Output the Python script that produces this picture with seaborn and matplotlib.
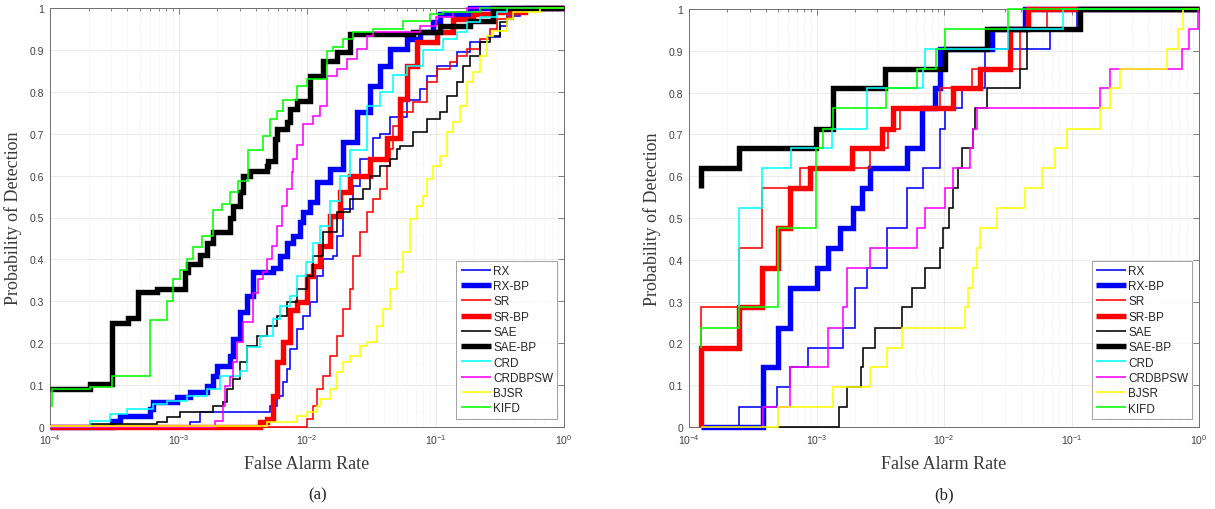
import matplotlib
matplotlib.use("Agg")
import matplotlib.pyplot as plt
import pandas as pd
import seaborn as sns
from matplotlib.ticker import FixedLocator, LogLocator, NullFormatter, FixedFormatter

# ---------------------------------------------------------------- series setup
methods = ["RX", "RX-BP", "SR", "SR-BP", "SAE", "SAE-BP", "CRD", "CRDBPSW", "BJSR", "KIFD"]
colors = ["#0000ff", "#0000ff", "#ff0000", "#ff0000", "#000000", "#000000",
          "#00ffff", "#ff00ff", "#ffff00", "#00ff00"]
widths = [1.15, 3.9, 1.15, 3.9, 1.15, 3.9, 1.15, 1.15, 1.15, 1.15]

# ---------------------------------------------------------------- panel (a) ROC data
a_rx_fpr = [1e-4, 1.23e-3, 1.47e-3, 5.15e-3, 5.85e-3, 6.50e-3, 6.98e-3, 7.37e-3, 8.35e-3, 9.31e-3,
            1.05e-2, 1.20e-2, 1.33e-2, 1.59e-2, 1.71e-2, 1.91e-2, 2.28e-2, 2.58e-2, 3.27e-2, 3.70e-2,
            4.43e-2, 6.00e-2, 7.57e-2, 8.59e-2, 1.03e-1, 1.47e-1, 1.85e-1, 2.52e-1, 3.18e-1, 3.60e-1,
            4.55e-1, 4.98e-1, 1.0]
a_rx_pd = [0.0, 0.012, 0.036, 0.05, 0.074, 0.107, 0.138, 0.186, 0.234, 0.265,
           0.298, 0.36, 0.40, 0.408, 0.456, 0.52, 0.575, 0.64, 0.69, 0.70,
           0.74, 0.78, 0.807, 0.838, 0.862, 0.894, 0.918, 0.93, 0.958, 0.98,
           0.99, 1.0, 1.0]

a_rxbp_fpr = [1e-4, 3.03e-4, 3.51e-4, 6.00e-4, 6.34e-4, 9.73e-4, 1.23e-3, 1.67e-3, 1.85e-3, 2.0e-3,
              2.52e-3, 2.66e-3, 3.01e-3, 3.41e-3, 3.80e-3, 5.44e-3, 6.17e-3, 6.98e-3, 7.78e-3, 8.83e-3,
              9.31e-3, 1.05e-2, 1.20e-2, 1.51e-2, 1.91e-2, 2.45e-2, 3.09e-2, 3.70e-2, 4.43e-2, 6.00e-2,
              7.57e-2, 9.57e-2, 1.08e-1, 1.85e-1, 1.0]
a_rxbp_pd = [0.0, 0.014, 0.026, 0.043, 0.06, 0.072, 0.084, 0.098, 0.122, 0.146,
             0.17, 0.21, 0.274, 0.313, 0.37, 0.38, 0.408, 0.44, 0.456, 0.49,
             0.513, 0.537, 0.585, 0.616, 0.68, 0.752, 0.814, 0.862, 0.902, 0.926,
             0.943, 0.966, 0.986, 1.0, 1.0]

a_sr_fpr = [1e-4, 1.0e-2, 1.11e-2, 1.20e-2, 1.33e-2, 1.51e-2, 1.71e-2, 1.91e-2, 2.16e-2, 2.28e-2,
            2.58e-2, 2.93e-2, 3.27e-2, 3.70e-2, 4.20e-2, 4.43e-2, 4.67e-2, 5.30e-2, 6.68e-2, 8.59e-2,
            1.03e-1, 1.30e-1, 1.47e-1, 1.76e-1, 2.22e-1, 2.65e-1, 3.01e-1, 3.60e-1, 4.01e-1, 4.98e-1, 1.0]
a_sr_pd = [0.0, 0.02, 0.05, 0.09, 0.122, 0.17, 0.217, 0.282, 0.329, 0.408,
           0.465, 0.513, 0.544, 0.568, 0.623, 0.663, 0.718, 0.752, 0.776, 0.823,
           0.854, 0.87, 0.886, 0.902, 0.926, 0.95, 0.974, 0.978, 0.99, 1.0, 1.0]

a_srbp_fpr = [1e-4, 4.31e-3, 4.89e-3, 5.44e-3, 5.85e-3, 6.50e-3, 7.37e-3, 8.35e-3, 1.0e-2, 1.11e-2,
              1.26e-2, 1.51e-2, 1.81e-2, 2.16e-2, 3.09e-2, 4.20e-2, 5.30e-2, 6.00e-2, 7.18e-2, 1.03e-1,
              1.37e-1, 1.96e-1, 2.80e-1, 4.98e-1, 1.0]
a_srbp_pd = [0.0, 0.012, 0.02, 0.074, 0.155, 0.203, 0.28, 0.298, 0.36, 0.385,
             0.432, 0.503, 0.56, 0.60, 0.64, 0.69, 0.783, 0.862, 0.918, 0.943,
             0.974, 0.986, 0.99, 1.0, 1.0]

a_sae_fpr = [1e-4, 2.05e-4, 6.81e-4, 8.15e-4, 1.03e-3, 1.85e-3, 2.22e-3, 2.38e-3, 2.66e-3, 3.01e-3,
             3.41e-3, 4.08e-3, 4.89e-3, 5.85e-3, 6.98e-3, 8.35e-3, 1.0e-2, 1.11e-2, 1.33e-2, 1.71e-2,
             2.16e-2, 2.73e-2, 3.09e-2, 3.70e-2, 4.43e-2, 5.01e-2, 5.30e-2, 6.68e-2, 8.59e-2, 1.08e-1,
             1.23e-1, 1.47e-1, 1.64e-1, 1.85e-1, 2.22e-1, 2.65e-1, 3.18e-1, 3.60e-1, 4.01e-1, 4.98e-1, 1.0]
a_sae_pd = [0.0, 0.007, 0.012, 0.024, 0.036, 0.05, 0.06, 0.09, 0.114, 0.155,
            0.193, 0.217, 0.241, 0.265, 0.298, 0.329, 0.36, 0.408, 0.465, 0.513,
            0.544, 0.568, 0.599, 0.623, 0.64, 0.663, 0.671, 0.704, 0.735, 0.752,
            0.79, 0.823, 0.862, 0.886, 0.918, 0.934, 0.966, 0.974, 0.994, 1.0, 1.0]

a_saebp_fpr = [1e-4, 2.05e-4, 3.03e-4, 4.05e-4, 4.84e-4, 6.81e-4, 1.12e-3, 1.19e-3, 1.47e-3, 1.67e-3,
               1.85e-3, 2.52e-3, 2.66e-3, 3.01e-3, 3.18e-3, 3.60e-3, 4.89e-3, 4.97e-3, 5.64e-3, 5.85e-3,
               6.98e-3, 7.37e-3, 8.35e-3, 1.05e-2, 1.33e-2, 1.71e-2, 2.16e-2, 6.68e-2, 1.08e-1, 1.85e-1,
               2.80e-1, 1.0]
a_saebp_pd = [0.09, 0.103, 0.248, 0.26, 0.322, 0.33, 0.37, 0.39, 0.41, 0.44,
              0.465, 0.50, 0.527, 0.56, 0.60, 0.61, 0.623, 0.635, 0.687, 0.711,
              0.728, 0.759, 0.778, 0.838, 0.874, 0.895, 0.938, 0.943, 0.957, 0.97,
              1.0, 1.0]

a_crd_fpr = [1e-4, 2.05e-4, 2.93e-4, 3.97e-4, 6.34e-4, 8.15e-4, 1.16e-3, 1.67e-3, 2.10e-3, 3.01e-3,
             3.41e-3, 4.31e-3, 5.44e-3, 6.17e-3, 7.37e-3, 8.35e-3, 9.9e-3, 1.11e-2, 1.26e-2, 1.51e-2,
             1.81e-2, 2.16e-2, 2.93e-2, 3.70e-2, 4.67e-2, 6.00e-2, 8.0e-2, 1.14e-1, 1.47e-1, 1.76e-1,
             2.22e-1, 3.01e-1, 3.60e-1, 1.0]
a_crd_pd = [0.0, 0.014, 0.031, 0.043, 0.055, 0.062, 0.074, 0.09, 0.122, 0.134,
            0.19, 0.217, 0.258, 0.289, 0.313, 0.36, 0.394, 0.44, 0.48, 0.54,
            0.60, 0.66, 0.766, 0.80, 0.84, 0.862, 0.90, 0.926, 0.943, 0.966,
            0.978, 0.99, 1.0, 1.0]

a_crdbpsw_fpr = [1e-4, 1.92e-3, 2.22e-3, 2.30e-3, 2.52e-3, 2.66e-3, 2.85e-3, 3.18e-3, 3.80e-3, 4.16e-3,
                 4.55e-3, 4.89e-3, 5.34e-3, 5.85e-3, 6.39e-3, 6.98e-3, 7.64e-3, 7.78e-3, 8.35e-3, 9.31e-3,
                 1.11e-2, 1.26e-2, 1.43e-2, 1.71e-2, 2.05e-2, 2.45e-2, 2.93e-2, 3.27e-2, 7.57e-2, 1.0e-1,
                 1.37e-1, 1.76e-1, 1.0]
a_crdbpsw_pd = [0.0, 0.014, 0.05, 0.098, 0.12, 0.155, 0.203, 0.25, 0.32, 0.353,
                0.37, 0.40, 0.433, 0.48, 0.527, 0.568, 0.608, 0.64, 0.673, 0.723,
                0.743, 0.767, 0.838, 0.854, 0.878, 0.902, 0.934, 0.943, 0.958, 0.978,
                0.99, 1.0, 1.0]

a_bjsr_fpr = [1e-4, 4.89e-3, 8.35e-3, 1.0e-2, 1.20e-2, 1.26e-2, 1.51e-2, 1.71e-2, 1.91e-2, 2.16e-2,
              2.58e-2, 2.93e-2, 3.51e-2, 3.90e-2, 4.43e-2, 5.01e-2, 5.58e-2, 6.34e-2, 7.18e-2, 8.0e-2,
              8.59e-2, 9.57e-2, 1.08e-1, 1.23e-1, 1.37e-1, 1.55e-1, 1.76e-1, 1.96e-1, 2.22e-1, 2.52e-1,
              2.80e-1, 3.60e-1, 4.01e-1, 6.50e-1, 1.0]
a_bjsr_pd = [0.003, 0.012, 0.026, 0.036, 0.05, 0.067, 0.09, 0.131, 0.155, 0.17,
             0.193, 0.203, 0.241, 0.282, 0.329, 0.37, 0.418, 0.496, 0.527, 0.551,
             0.592, 0.623, 0.647, 0.704, 0.728, 0.766, 0.823, 0.847, 0.886, 0.934,
             0.946, 0.974, 0.99, 1.0, 1.0]

a_kifd_fpr = [1.02e-4, 1.03e-4, 2.05e-4, 3.03e-4, 6.00e-4, 8.15e-4, 9.06e-4, 1.03e-3, 1.16e-3, 1.30e-3,
              1.52e-3, 1.85e-3, 2.18e-3, 2.52e-3, 2.90e-3, 3.47e-3, 4.55e-3, 5.15e-3, 5.85e-3, 6.50e-3,
              8.35e-3, 1.0e-2, 1.43e-2, 1.59e-2, 1.91e-2, 2.28e-2, 3.27e-2, 5.58e-2, 9.06e-2, 1.14e-1,
              2.22e-1, 1.0]
a_kifd_pd = [0.05, 0.09, 0.095, 0.122, 0.255, 0.30, 0.353, 0.375, 0.40, 0.43,
             0.455, 0.518, 0.532, 0.56, 0.588, 0.66, 0.695, 0.735, 0.755, 0.78,
             0.815, 0.83, 0.898, 0.906, 0.926, 0.943, 0.95, 0.97, 0.986, 0.99,
             1.0, 1.0]

# ---------------------------------------------------------------- panel (b) ROC data
b_rx_fpr = [1.24e-4, 2.47e-4, 4.90e-4, 6.19e-4, 8.58e-4, 1.62e-3, 2.00e-3, 2.49e-3, 3.57e-3, 5.13e-3,
            6.84e-3, 9.30e-3, 1.02e-2, 1.38e-2, 2.10e-2, 6.78e-2, 1.10e-1, 1.0]
b_rx_pd = [0.0, 0.048, 0.095, 0.143, 0.19, 0.238, 0.333, 0.381, 0.476, 0.571,
           0.619, 0.714, 0.762, 0.810, 0.905, 0.952, 1.0, 1.0]

b_rxbp_fpr = [1.24e-4, 3.80e-4, 4.99e-4, 6.19e-4, 1.01e-3, 1.23e-3, 1.53e-3, 1.93e-3, 2.27e-3, 2.63e-3,
              5.13e-3, 6.72e-3, 8.50e-3, 9.30e-3, 2.38e-2, 4.32e-2, 1.0]
b_rxbp_pd = [0.0, 0.143, 0.238, 0.333, 0.381, 0.429, 0.476, 0.524, 0.571, 0.619,
             0.667, 0.762, 0.810, 0.905, 0.952, 1.0, 1.0]

b_sr_fpr = [1.24e-4, 1.25e-4, 2.47e-4, 3.74e-4, 7.43e-4, 2.63e-3, 3.64e-3, 4.52e-3, 9.30e-3, 1.66e-2,
            3.95e-2, 6.43e-2, 1.0]
b_sr_pd = [0.19, 0.286, 0.429, 0.571, 0.619, 0.667, 0.714, 0.762, 0.810, 0.857,
           0.952, 1.0, 1.0]

b_srbp_fpr = [1.24e-4, 1.25e-4, 2.47e-4, 3.74e-4, 4.99e-4, 6.19e-4, 8.89e-4, 1.90e-3, 3.27e-3, 3.98e-3,
              1.18e-2, 1.92e-2, 3.30e-2, 4.56e-2, 1.0]
b_srbp_pd = [0.0, 0.19, 0.286, 0.381, 0.476, 0.571, 0.619, 0.667, 0.714, 0.762,
             0.810, 0.857, 0.952, 1.0, 1.0]

b_sae_fpr = [4.99e-4, 1.50e-3, 1.73e-3, 2.23e-3, 2.32e-3, 2.88e-3, 4.69e-3, 5.61e-3, 7.09e-3, 9.30e-3,
             9.81e-3, 1.09e-2, 1.18e-2, 1.29e-2, 1.38e-2, 1.69e-2, 1.75e-2, 2.17e-2, 3.95e-2, 4.48e-2,
             1.17e-1, 1.0]
b_sae_pd = [0.0, 0.048, 0.095, 0.143, 0.19, 0.238, 0.286, 0.333, 0.381, 0.429,
            0.476, 0.524, 0.571, 0.619, 0.667, 0.714, 0.762, 0.810, 0.857, 0.952,
            1.0, 1.0]

b_saebp_fpr = [1.24e-4, 1.25e-4, 2.47e-4, 9.91e-4, 1.35e-3, 3.44e-3, 1.02e-2, 2.17e-2, 1.17e-1, 1.0]
b_saebp_pd = [0.571, 0.619, 0.667, 0.714, 0.810, 0.857, 0.905, 0.952, 1.0, 1.0]

b_crd_fpr = [2.47e-4, 2.48e-4, 3.74e-4, 6.31e-4, 1.32e-3, 2.49e-3, 6.84e-3, 7.09e-3, 3.18e-2, 8.58e-2, 1.0]
b_crd_pd = [0.286, 0.524, 0.619, 0.667, 0.714, 0.810, 0.857, 0.905, 0.952, 1.0, 1.0]

b_crdbpsw_fpr = [3.80e-4, 3.81e-4, 6.19e-4, 1.23e-3, 1.62e-3, 1.73e-3, 2.63e-3, 6.14e-3, 7.09e-3, 1.02e-2,
                 1.18e-2, 1.60e-2, 1.69e-2, 1.81e-2, 1.67e-1, 2.00e-1, 7.35e-1, 8.35e-1, 9.82e-1, 1.0]
b_crdbpsw_pd = [0.0, 0.048, 0.143, 0.238, 0.286, 0.381, 0.429, 0.476, 0.524, 0.571,
                0.619, 0.667, 0.714, 0.762, 0.810, 0.857, 0.905, 0.952, 1.0, 1.0]

b_bjsr_fpr = [1.24e-4, 4.99e-4, 1.35e-3, 2.63e-3, 3.57e-3, 4.69e-3, 1.46e-2, 1.54e-2, 1.69e-2, 1.81e-2,
              1.92e-2, 2.60e-2, 4.32e-2, 5.87e-2, 7.43e-2, 9.22e-2, 1.67e-1, 2.00e-1, 2.40e-1, 5.61e-1,
              6.84e-1, 7.49e-1, 1.0]
b_bjsr_pd = [0.0, 0.048, 0.095, 0.143, 0.19, 0.238, 0.286, 0.333, 0.381, 0.429,
             0.476, 0.524, 0.571, 0.619, 0.667, 0.714, 0.762, 0.810, 0.857, 0.905,
             0.952, 1.0, 1.0]

b_kifd_fpr = [1.24e-4, 1.25e-4, 2.47e-4, 4.99e-4, 9.91e-4, 1.12e-3, 1.35e-3, 3.51e-3, 6.14e-3, 8.65e-3,
              1.02e-2, 3.18e-2, 1.0]
b_kifd_pd = [0.19, 0.238, 0.286, 0.476, 0.667, 0.714, 0.762, 0.810, 0.857, 0.905,
             0.952, 1.0, 1.0]

panel_a = [(a_rx_fpr, a_rx_pd), (a_rxbp_fpr, a_rxbp_pd), (a_sr_fpr, a_sr_pd), (a_srbp_fpr, a_srbp_pd),
           (a_sae_fpr, a_sae_pd), (a_saebp_fpr, a_saebp_pd), (a_crd_fpr, a_crd_pd),
           (a_crdbpsw_fpr, a_crdbpsw_pd), (a_bjsr_fpr, a_bjsr_pd), (a_kifd_fpr, a_kifd_pd)]
panel_b = [(b_rx_fpr, b_rx_pd), (b_rxbp_fpr, b_rxbp_pd), (b_sr_fpr, b_sr_pd), (b_srbp_fpr, b_srbp_pd),
           (b_sae_fpr, b_sae_pd), (b_saebp_fpr, b_saebp_pd), (b_crd_fpr, b_crd_pd),
           (b_crdbpsw_fpr, b_crdbpsw_pd), (b_bjsr_fpr, b_bjsr_pd), (b_kifd_fpr, b_kifd_pd)]

x_tick_values = [1e-4, 1e-3, 1e-2, 1e-1, 1e0]
x_tick_labels = [r"$10^{-4}$", r"$10^{-3}$", r"$10^{-2}$", r"$10^{-1}$", r"$10^{0}$"]
y_tick_values = [0, 0.1, 0.2, 0.3, 0.4, 0.5, 0.6, 0.7, 0.8, 0.9, 1.0]
y_tick_labels = ["0", "0.1", "0.2", "0.3", "0.4", "0.5", "0.6", "0.7", "0.8", "0.9", "1"]

# ---------------------------------------------------------------- style
sns.set_style("white")
plt.rcParams["font.family"] = ["Liberation Sans", "DejaVu Sans"]
plt.rcParams["mathtext.fontset"] = "custom"
plt.rcParams["mathtext.rm"] = "Liberation Sans"
plt.rcParams["mathtext.it"] = "Liberation Sans:italic"
plt.rcParams["mathtext.bf"] = "Liberation Sans:bold"

TICK_GRAY = "#404040"
SPINE_GRAY = "#6e6e6e"
SERIF = ["Liberation Serif", "DejaVu Serif"]

fig = plt.figure(figsize=(12.15, 5.1), dpi=100)
ax_a = fig.add_axes([50 / 1215, 82 / 510, 514 / 1215, 419 / 510])
ax_b = fig.add_axes([689 / 1215, 82 / 510, 510 / 1215, 418 / 510])


def draw_panel(ax, curves):
    for k, ((fpr, pd_), name, col, lw) in enumerate(zip(curves, methods, colors, widths)):
        frame = pd.DataFrame({"fpr": fpr, "pd": pd_})
        sns.lineplot(data=frame, x="fpr", y="pd", ax=ax, color=col, linewidth=lw,
                     drawstyle="steps-post", estimator=None, sort=False, label=name,
                     legend=False, clip_on=False, zorder=3 + k * 0.1,
                     solid_joinstyle="miter", solid_capstyle="butt")
    ax.set_xscale("log")
    ax.set_xlim(1e-4, 1.0)
    ax.set_ylim(0, 1)

    ax.xaxis.set_major_locator(FixedLocator(x_tick_values))
    ax.xaxis.set_major_formatter(FixedFormatter(x_tick_labels))
    ax.xaxis.set_minor_locator(LogLocator(base=10, subs=range(2, 10), numticks=20))
    ax.xaxis.set_minor_formatter(NullFormatter())
    ax.yaxis.set_major_locator(FixedLocator(y_tick_values))
    ax.yaxis.set_major_formatter(FixedFormatter(y_tick_labels))

    ax.grid(which="major", axis="both", color="#e6e6e6", linewidth=0.6, linestyle="-")
    ax.grid(which="minor", axis="x", color="#e8e8e8", linewidth=0.6, linestyle=(0, (1, 1.5)))
    ax.set_axisbelow(True)

    ax.tick_params(which="both", direction="in", top=True, right=True,
                   color=SPINE_GRAY, width=0.6)
    ax.tick_params(which="major", length=4, labelsize=7.5, labelcolor=TICK_GRAY, pad=4)
    ax.tick_params(which="minor", length=2)
    for sp in ax.spines.values():
        sp.set_color(SPINE_GRAY)
        sp.set_linewidth(0.7)
        sp.set_visible(True)

    ax.set_xlabel("False Alarm Rate", family=SERIF, fontsize=13, color="#3a3a3a", labelpad=6)
    ax.set_ylabel("Probability of Detection", family=SERIF, fontsize=13, color="#3a3a3a", labelpad=6)

    leg = ax.legend(loc="lower right", bbox_to_anchor=(0.987, 0.02), borderaxespad=0,
                    fontsize=8.5, frameon=True, fancybox=False, handlelength=2.6,
                    handletextpad=0.15, labelspacing=0.28, borderpad=0.35)
    leg.get_frame().set_edgecolor("#8a8a8a")
    leg.get_frame().set_linewidth(0.7)
    leg.set_zorder(10)


draw_panel(ax_a, panel_a)
draw_panel(ax_b, panel_b)

fig.text(318 / 1215, 1 - 495 / 510, "(a)", family=SERIF, fontsize=12, color="#222222",
         ha="center", va="center")
fig.text(944 / 1215, 1 - 495 / 510, "(b)", family=SERIF, fontsize=12, color="#222222",
         ha="center", va="center")

fig.savefig("out.png", dpi=100, facecolor="white")
